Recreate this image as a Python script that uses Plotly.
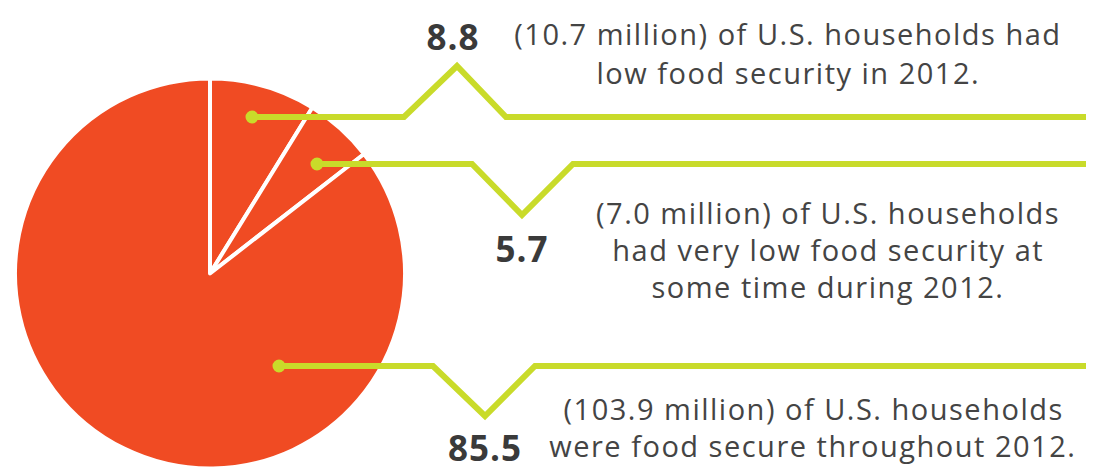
import plotly.graph_objects as go

# ---- data ----
categories = ["Low food security", "Very low food security", "Food secure"]
shares = [8.8, 5.7, 85.5]
share_labels = ["8.8", "5.7", "85.5"]
desc_lines = [
    ["(10.7 million) of U.S. households had", "low food security in 2012."],
    ["(7.0 million) of U.S. households", "had very low food security at", "some time during 2012."],
    ["(103.9 million) of U.S. households", "were food secure throughout 2012."],
]

# ---- layout constants (pixels) ----
W, H = 1105, 471
ORANGE = "#F04B23"
GREEN = "#C9DB2A"
TEXT = "#444444"
pie_cx, pie_cy, pie_r = 210, 273.5, 195

# callout leader geometry (x points, y points) per category
leader_x = [
    [252, 404, 457, 506, 1086],
    [317, 472, 522, 573, 1086],
    [279, 433, 485, 535, 1086],
]
leader_y = [
    [117, 117, 66, 117, 117],
    [164, 164, 215, 164, 164],
    [366, 366, 416, 366, 366],
]
number_pos = [(453, 36), (522, 248), (485, 447)]
desc_pos = [(788, [33, 72]), (828, [212, 249, 286]), (813, [408, 445])]

fig = go.Figure()

fig.add_trace(go.Pie(
    labels=categories,
    values=shares,
    sort=False,
    direction="clockwise",
    rotation=0,
    textinfo="none",
    hoverinfo="label+percent",
    marker=dict(colors=[ORANGE] * 3, line=dict(color="white", width=4)),
    domain=dict(
        x=[(pie_cx - pie_r) / W, (pie_cx + pie_r) / W],
        y=[(H - (pie_cy + pie_r)) / H, (H - (pie_cy - pie_r)) / H],
    ),
    showlegend=False,
))

# invisible trace to establish pixel-space axes
fig.add_trace(go.Scatter(x=[0, W], y=[0, H], mode="markers",
                         marker=dict(opacity=0), hoverinfo="skip", showlegend=False))

shapes = []
for xs, ys in zip(leader_x, leader_y):
    path = "M " + " L ".join(f"{x},{y}" for x, y in zip(xs, ys))
    shapes.append(dict(type="path", path=path, xref="x", yref="y",
                       line=dict(color=GREEN, width=6), layer="above"))
    r = 6.5
    shapes.append(dict(type="circle", xref="x", yref="y",
                       x0=xs[0] - r, x1=xs[0] + r, y0=ys[0] - r, y1=ys[0] + r,
                       fillcolor=GREEN, line=dict(width=0), layer="above"))

annotations = []
for lab, (nx, ny) in zip(share_labels, number_pos):
    annotations.append(dict(x=nx, y=ny, xref="x", yref="y", text=f"<b>{lab}</b>",
                            showarrow=False, xanchor="center", yanchor="middle",
                            font=dict(family="Open Sans", size=35, color="#3a3a3a")))
for lines, (cx, ys) in zip(desc_lines, desc_pos):
    for t, y in zip(lines, ys):
        annotations.append(dict(x=cx, y=y, xref="x", yref="y", text=t,
                                showarrow=False, xanchor="center", yanchor="middle",
                                font=dict(family="Open Sans", size=29, color=TEXT)))

fig.update_layout(
    width=W, height=H,
    margin=dict(l=0, r=0, t=0, b=0),
    paper_bgcolor="white", plot_bgcolor="white",
    xaxis=dict(range=[0, W], visible=False, fixedrange=True),
    yaxis=dict(range=[H, 0], visible=False, fixedrange=True),
    shapes=shapes,
    annotations=annotations,
)

post = """
document.body.style.margin='0';
document.body.style.overflow='hidden';
document.querySelectorAll('.annotation-text').forEach(function(e){
  var bold = e.querySelector('b') || (e.innerHTML.indexOf('font-weight') >= 0);
  e.style.letterSpacing = bold ? '1px' : '1.5px';
});
"""

fig.write_html("out.html", post_script=post, config={"displayModeBar": False})
